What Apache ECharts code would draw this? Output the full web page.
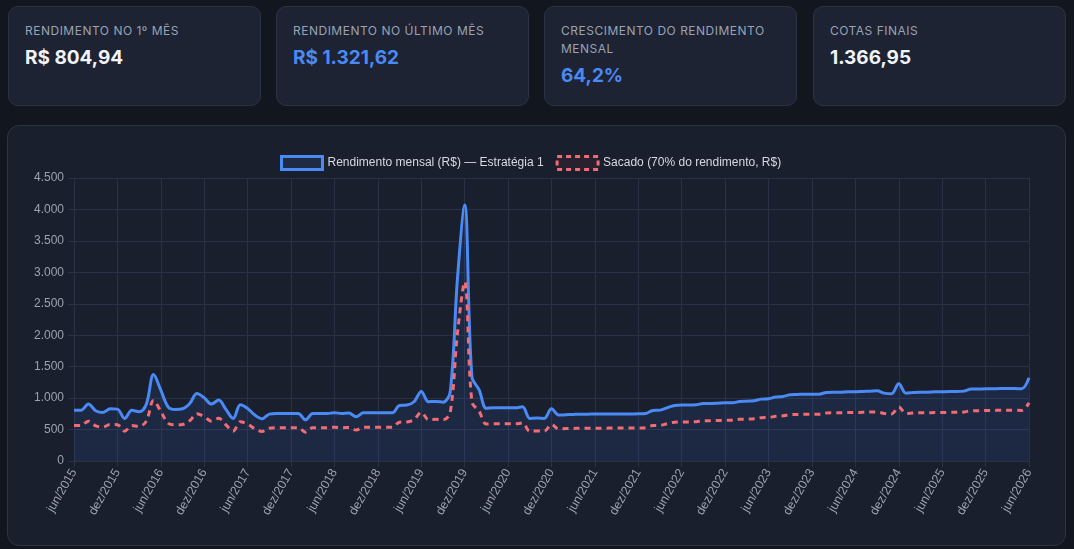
<!DOCTYPE html>
<html style="height: 100%">
<head>
  <meta charset="utf-8">
  <style>
    body {
      margin: 0;
      background: #12161f;
      font-family: Inter, "Noto Sans", sans-serif;
    }
    .card {
      position: absolute;
      top: 6px;
      width: 253px;
      height: 100px;
      box-sizing: border-box;
      padding: 15px 16px;
      background: #1d2333;
      border: 1px solid #2b3345;
      border-radius: 10px;
    }
    .card .lbl {
      font-size: 12px;
      line-height: 18px;
      letter-spacing: 0.5px;
      color: #9aa2b3;
      text-transform: uppercase;
    }
    .card .val {
      margin-top: 6px;
      font-size: 19px;
      font-weight: 700;
      color: #f1f3f7;
    }
    .card .val.blue { color: #4a8af4; }
    #panel {
      position: absolute;
      left: 7px;
      top: 125px;
      width: 1059px;
      height: 421px;
      box-sizing: border-box;
      background: #1a1f2d;
      border: 1px solid #2b3345;
      border-radius: 12px;
    }
    #container {
      position: absolute;
      left: -1px;
      top: -1px;
      width: 1059px;
      height: 421px;
    }
  </style>
</head>
<body>
  <div class="card" style="left: 8px"><div class="lbl">Rendimento no 1º mês</div><div class="val">R$ 804,94</div></div>
  <div class="card" style="left: 276px"><div class="lbl">Rendimento no último mês</div><div class="val blue">R$ 1.321,62</div></div>
  <div class="card" style="left: 544px"><div class="lbl">Crescimento do rendimento mensal</div><div class="val blue">64,2%</div></div>
  <div class="card" style="left: 813px"><div class="lbl">Cotas finais</div><div class="val">1.366,95</div></div>
  <div id="panel"><div id="container"></div></div>

  <script type="text/javascript" src="https://cdn.jsdelivr.net/npm/echarts@6.0.0/dist/echarts.min.js"></script>
  <script type="text/javascript">
    // months jun/2015 .. jun/2026
    var monthNames = ['jan', 'fev', 'mar', 'abr', 'mai', 'jun', 'jul', 'ago', 'set', 'out', 'nov', 'dez'];
    var months = [];
    for (var y = 2015; y <= 2026; y++) {
      for (var m = 0; m < 12; m++) {
        if (y === 2015 && m < 5) continue;
        if (y === 2026 && m > 5) break;
        months.push(monthNames[m] + '/' + y);
      }
    }

    var rendimento = [
      805, 808, 905, 800, 772, 830, 825, 677, 805, 783,
      905, 1375, 1127, 862, 820, 830, 915, 1074, 1005, 905,
      968, 820, 677, 894, 836, 730, 672, 746, 756, 756,
      756, 756, 656, 756, 756, 756, 767, 756, 762, 704,
      767, 767, 767, 767, 767, 883, 889, 942, 1106, 942,
      947, 936, 1100, 2900, 4070, 1340, 1129, 838, 846, 846,
      846, 846, 862, 677, 682, 677, 830, 730, 735, 740,
      745, 745, 746, 746, 747, 748, 748, 749, 750, 756,
      804, 809, 846, 883, 889, 889, 894, 915, 915, 920,
      926, 926, 947, 952, 958, 984, 989, 1016, 1026, 1053,
      1058, 1063, 1063, 1063, 1090, 1095, 1095, 1100, 1100, 1106,
      1111, 1116, 1079, 1069, 1227, 1079, 1090, 1095, 1095, 1100,
      1100, 1106, 1106, 1111, 1143, 1143, 1148, 1148, 1153, 1153,
      1153, 1148, 1322
    ];

    var sacado = [
      564, 566, 634, 560, 540, 581, 578, 474, 564, 548,
      634, 963, 789, 603, 574, 581, 641, 752, 704, 634,
      678, 574, 474, 626, 585, 511, 470, 522, 529, 529,
      529, 529, 459, 529, 529, 529, 537, 529, 533, 493,
      537, 537, 537, 537, 537, 618, 622, 659, 774, 659,
      663, 655, 770, 2030, 2849, 938, 790, 587, 592, 592,
      592, 592, 603, 474, 477, 474, 581, 511, 515, 518,
      522, 522, 522, 522, 523, 524, 524, 524, 525, 529,
      563, 566, 592, 618, 622, 622, 626, 641, 641, 644,
      648, 648, 663, 666, 671, 689, 692, 711, 718, 737,
      741, 744, 744, 744, 763, 767, 767, 770, 770, 774,
      778, 781, 755, 748, 859, 755, 763, 767, 767, 770,
      770, 774, 774, 778, 800, 800, 804, 804, 807, 807,
      807, 804, 925
    ];

    var blue = '#4a8af4';
    var red = '#f36b73';
    var gridColor = '#2a3144';
    var labelColor = '#9ba1ad';
    var chartFont = '"Liberation Sans", Arial, sans-serif';

    function ptBR(v) {
      return String(v).replace(/\B(?=(\d{3})+(?!\d))/g, '.');
    }

    var dom = document.getElementById('container');
    var myChart = echarts.init(dom);

    var option = {
      animation: false,
      textStyle: { fontFamily: chartFont },
      legend: {
        top: 30,
        left: 273,
        padding: 0,
        itemWidth: 41,
        itemHeight: 13,
        itemGap: 12,
        textStyle: { color: '#d6d9e0', fontSize: 12, fontFamily: chartFont },
        data: [
          {
            name: 'Rendimento mensal (R$) — Estratégia 1',
            icon: 'rect',
            itemStyle: { color: '#1f2a45', borderColor: blue, borderWidth: 3 }
          },
          {
            name: 'Sacado (70% do rendimento, R$)',
            icon: 'rect',
            itemStyle: { color: '#2a2130', borderColor: red, borderWidth: 3, borderType: [5, 4] }
          }
        ]
      },
      grid: {
        left: 67,
        right: 37,
        top: 53,
        bottom: 85
      },
      xAxis: {
        type: 'category',
        data: months,
        boundaryGap: false,
        axisLine: { lineStyle: { color: gridColor } },
        axisTick: { show: true, interval: 5, length: 6, lineStyle: { color: gridColor } },
        splitLine: { show: true, interval: 5, lineStyle: { color: gridColor } },
        axisLabel: {
          interval: 5,
          rotate: 60,
          color: labelColor,
          fontSize: 12.4,
          margin: 9
        }
      },
      yAxis: {
        type: 'value',
        min: 0,
        max: 4500,
        interval: 500,
        axisLine: { show: false },
        axisTick: { show: true, length: 6, lineStyle: { color: gridColor } },
        splitLine: { lineStyle: { color: gridColor } },
        axisLabel: {
          color: labelColor,
          fontSize: 12,
          margin: 10,
          formatter: ptBR
        }
      },
      series: [
        {
          name: 'Rendimento mensal (R$) — Estratégia 1',
          type: 'line',
          data: rendimento,
          smooth: 0.35,
          symbol: 'none',
          lineStyle: { color: blue, width: 3 },
          itemStyle: { color: blue },
          areaStyle: { color: 'rgba(59, 110, 220, 0.18)' },
          z: 3
        },
        {
          name: 'Sacado (70% do rendimento, R$)',
          type: 'line',
          data: sacado,
          smooth: 0.35,
          symbol: 'none',
          lineStyle: { color: red, width: 3, type: [6, 5] },
          itemStyle: { color: red },
          z: 4
        }
      ]
    };

    myChart.setOption(option);
  </script>
</body>
</html>
